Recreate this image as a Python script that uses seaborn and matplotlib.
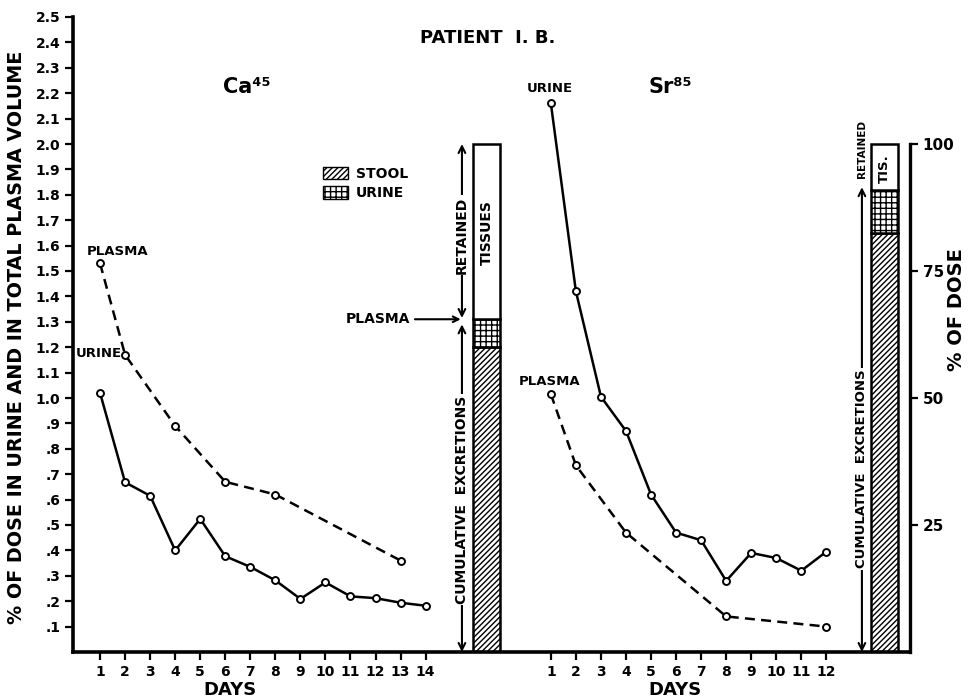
import matplotlib
matplotlib.use("Agg")
import matplotlib.pyplot as plt
import seaborn as sns
from matplotlib.patches import Patch

# Ca45 - left panel (% of dose)
ca_days = [1, 2, 3, 4, 5, 6, 7, 8, 9, 10, 11, 12, 13, 14]
ca_urine = [1.02, 0.668, 0.615, 0.40, 0.524, 0.377, 0.335, 0.282, 0.209, 0.274, 0.219, 0.212, 0.194, 0.182]
ca_plasma_days = [1, 2, 4, 6, 8, 13]
ca_plasma = [1.53, 1.17, 0.89, 0.67, 0.62, 0.36]

# Sr85 - right panel
sr_days = [1, 2, 3, 4, 5, 6, 7, 8, 9, 10, 11, 12]
sr_urine = [2.16, 1.42, 1.005, 0.87, 0.62, 0.47, 0.44, 0.28, 0.39, 0.37, 0.32, 0.395]
sr_plasma_days = [1, 2, 4, 8, 12]
sr_plasma = [1.015, 0.735, 0.47, 0.14, 0.10]

# cumulative bars, % of dose: stool, urine, tissues
ca_bar = [60.0, 5.5, 34.5]
sr_bar = [82.5, 8.5, 9.0]

ytick_vals = [round(0.1 * i, 1) for i in range(1, 26)]
ytick_labels = [("%.1f" % v).lstrip("0") for v in ytick_vals]
right_ticks = [25, 50, 75, 100]

sr_offset = 18  # day 1 of Sr sits at position 19 on the shared axis
pct_to_left = 2.0 / 100  # 100 % of dose == 2.0 on the left scale

sns.set_style("ticks")
plt.rcParams["font.family"] = ["DejaVu Sans"]
plt.rcParams["font.weight"] = "bold"
plt.rcParams["hatch.linewidth"] = 1.0
for k in ["text.color", "axes.labelcolor", "xtick.color", "ytick.color", "axes.edgecolor"]:
    plt.rcParams[k] = "black"

fig = plt.figure(figsize=(9.73, 6.99), dpi=100)
ax = fig.add_axes([73 / 973, 47 / 699, 837 / 973, 635 / 699])

line_kw = dict(color="black", lw=1.8, marker="o", ms=5, mfc="white", mec="black", mew=1.4)
dash = (0, (4, 2.5))
sns.lineplot(x=ca_days, y=ca_urine, ax=ax, **line_kw)
sns.lineplot(x=ca_plasma_days, y=ca_plasma, ax=ax, linestyle=dash, **line_kw)
sns.lineplot(x=[d + sr_offset for d in sr_days], y=sr_urine, ax=ax, **line_kw)
sns.lineplot(x=[d + sr_offset for d in sr_plasma_days], y=sr_plasma, ax=ax, linestyle=dash, **line_kw)

# stacked cumulative bars
hatches = ["//////", "+++", ""]
for xpos, parts in [(16.43, ca_bar), (32.31, sr_bar)]:
    bottom = 0
    for val, h in zip(parts, hatches):
        ax.bar(xpos, val * pct_to_left, bottom=bottom, width=1.08, color="white",
               edgecolor="black", hatch=h, lw=1.8)
        bottom += val * pct_to_left

ax.set_xlim(-0.08, 33.34)
ax.set_ylim(0, 2.5)
ax.set_yticks(ytick_vals)
ax.set_yticklabels(ytick_labels, fontsize=10, fontweight="bold")
xt = ca_days + [d + sr_offset for d in sr_days]
ax.set_xticks(xt)
ax.set_xticklabels([str(d) for d in ca_days] + [str(d) for d in sr_days], fontsize=10, fontweight="bold")
ax.tick_params(direction="out", length=6, width=1.6, pad=3)
for s in ["left", "bottom"]:
    ax.spines[s].set_linewidth(2.6)
ax.spines["top"].set_visible(False)
ax.spines["right"].set_visible(False)
ax.set_xlabel("")
ax.set_ylabel("")

ax2 = ax.twinx()
ax2.set_ylim(0, 125)
ax2.set_yticks(right_ticks)
ax2.set_yticklabels([str(t) for t in right_ticks], fontsize=11, fontweight="bold")
ax2.spines["right"].set_bounds(0, 100)
ax2.spines["right"].set_linewidth(2.4)
for s in ["left", "top", "bottom"]:
    ax2.spines[s].set_visible(False)
ax2.tick_params(direction="out", length=6, width=1.6, pad=3)

# labels at the curves
lab = dict(fontsize=9.5, fontweight="bold", ha="center", va="center")
ax.text(1.68, 1.575, "PLASMA", **lab)
ax.text(0.95, 1.175, "URINE", **lab)
ax.text(18.96, 2.22, "URINE", **lab)
ax.text(18.96, 1.063, "PLASMA", **lab)

# arrows and texts next to the bars
arr = dict(arrowstyle="<->", lw=1.5, color="black", shrinkA=0, shrinkB=0, mutation_scale=12)
wbox = dict(facecolor="white", edgecolor="none", pad=1)
ax.annotate("", xy=(15.45, 2.0), xytext=(15.45, 1.315), arrowprops=arr)
ax.annotate("", xy=(15.45, 1.29), xytext=(15.45, 0.0), arrowprops=arr)
ax.text(15.45, 1.64, "RETAINED", rotation=90, ha="center", va="center", fontsize=10, bbox=wbox)
ax.text(15.45, 0.6, "CUMULATIVE  EXCRETIONS", rotation=90, ha="center", va="center", fontsize=10, bbox=wbox)
ax.text(16.45, 1.65, "TISSUES", rotation=90, ha="center", va="center", fontsize=10)
ax.annotate("PLASMA", xy=(15.4, 1.31), xytext=(12.1, 1.31), ha="center", va="center", fontsize=10,
            arrowprops=dict(arrowstyle="->", lw=1.5, color="black", shrinkA=1, shrinkB=0))

ax.annotate("", xy=(31.42, 1.83), xytext=(31.42, 0.0), arrowprops=arr)
ax.text(31.42, 1.98, "RETAINED", rotation=90, ha="center", va="center", fontsize=7.5)
ax.text(31.42, 0.72, "CUMULATIVE  EXCRETIONS", rotation=90, ha="center", va="center", fontsize=9.5, bbox=wbox)
ax.text(32.31, 1.905, "TIS.", rotation=90, ha="center", va="center", fontsize=9.5)

handles = [Patch(facecolor="white", edgecolor="black", hatch="//////", label="STOOL"),
           Patch(facecolor="white", edgecolor="black", hatch="+++", label="URINE")]
leg = ax.legend(handles=handles, loc="upper left", bbox_to_anchor=(0.29, 0.775), frameon=False,
                prop=dict(weight="bold", size=10), handlelength=1.8, handleheight=1.0,
                labelspacing=0.4, handletextpad=0.6, borderpad=0)

fig.text(488 / 973, 1 - 38 / 699, "PATIENT  I. B.", ha="center", va="center", fontsize=13, fontweight="bold")
fig.text(247 / 973, 1 - 87 / 699, "Ca⁴⁵", ha="center", va="center", fontsize=15, fontweight="bold")
fig.text(670 / 973, 1 - 87 / 699, "Sr⁸⁵", ha="center", va="center", fontsize=15, fontweight="bold")
fig.text(230 / 973, 1 - 690 / 699, "DAYS", ha="center", va="center", fontsize=13, fontweight="bold")
fig.text(675 / 973, 1 - 690 / 699, "DAYS", ha="center", va="center", fontsize=13, fontweight="bold")
fig.text(17 / 973, 1 - 337 / 699, "% OF DOSE IN URINE AND IN TOTAL PLASMA VOLUME", rotation=90,
         ha="center", va="center", fontsize=13.8, fontweight="bold")
fig.text(957 / 973, 1 - 310 / 699, "% OF DOSE", rotation=90, ha="center", va="center",
         fontsize=14, fontweight="bold")

fig.savefig("out.png", dpi=100)
